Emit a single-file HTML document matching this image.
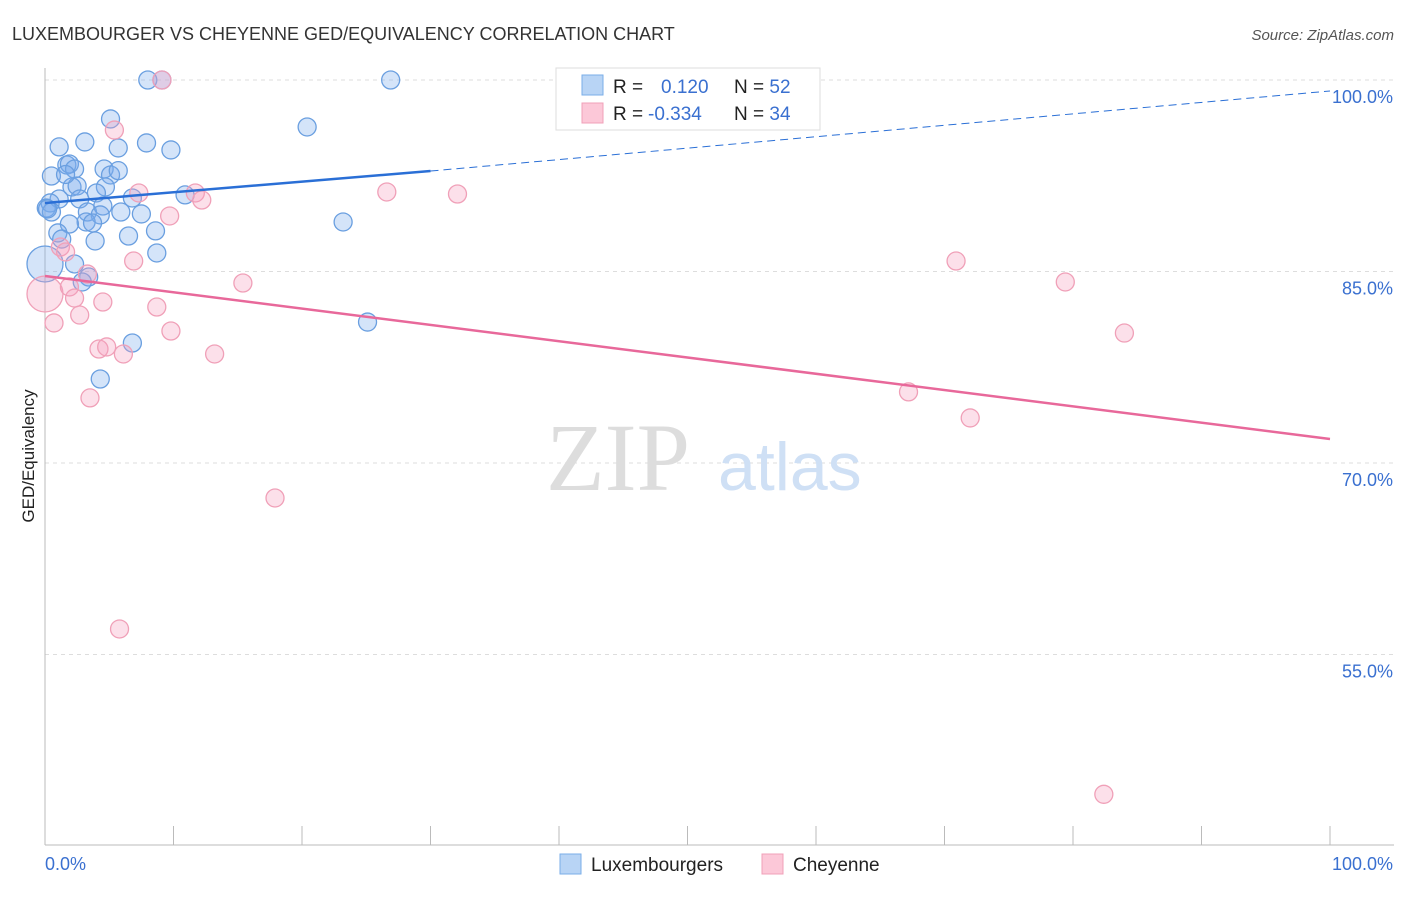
<!DOCTYPE html>
<html><head><meta charset="utf-8"><style>
body{margin:0;background:#fff;font-family:"Liberation Sans",sans-serif}
svg text{font-family:"Liberation Sans",sans-serif}
</style></head><body>
<svg width="1406" height="892" viewBox="0 0 1406 892">
<text x="12" y="40" font-size="18" fill="#333">LUXEMBOURGER VS CHEYENNE GED/EQUIVALENCY CORRELATION CHART</text>
<text x="1394" y="40" font-size="15" fill="#555" font-style="italic" text-anchor="end">Source: ZipAtlas.com</text>
<g id="grid"></g>
<g id="axes"></g>
<text x="690" y="490" font-size="96" fill="#ddd" text-anchor="end" font-family="Liberation Serif" style="font-family:'Liberation Serif',serif">ZIP</text>
<text x="718" y="490" font-size="68" fill="#cfe0f5">atlas</text>
<g id="pts"></g>
<g id="lines"></g>
<text transform="translate(34,456) rotate(-90)" font-size="17" fill="#222" text-anchor="middle">GED/Equivalency</text>
<g>
<rect x="556" y="68" width="264" height="62" fill="#fff" stroke="#ddd"/>
<rect x="582" y="75" width="21" height="20" fill="#b8d4f5" stroke="#7aaee8"/>
<rect x="582" y="103" width="21" height="20" fill="#fcc8d8" stroke="#f0a0b8"/>
<text x="613" y="93" font-size="19" fill="#222">R = <tspan x="661" fill="#3a70d0">0.120</tspan><tspan x="734" fill="#222">N = </tspan><tspan fill="#3a70d0">52</tspan></text>
<text x="613" y="120" font-size="19" fill="#222">R = <tspan x="648" fill="#3a70d0">-0.334</tspan><tspan x="734" fill="#222">N = </tspan><tspan fill="#3a70d0">34</tspan></text>
</g>
<g>
<rect x="560" y="854" width="21" height="20" fill="#b8d4f5" stroke="#7aaee8"/>
<text x="591" y="871" font-size="19" fill="#222">Luxembourgers</text>
<rect x="762" y="854" width="21" height="20" fill="#fcc8d8" stroke="#f0a0b8"/>
<text x="793" y="871" font-size="19" fill="#222">Cheyenne</text>
</g>
</svg>
<script>
const yTicks=[100,85,70,55];
const yTickLabels=["100.0%","85.0%","70.0%","55.0%"];
const xTickLabels=["0.0%","100.0%"];
const blueX=[8.0,9.1,26.9,5.1,20.4,1.1,3.1,5.7,7.9,9.8,1.7,1.9,2.3,4.6,5.1,0.5,2.1,2.5,4.7,4.0,1.1,6.8,10.9,0.4,2.7,0.1,0.5,3.3,4.5,4.3,5.9,7.5,3.2,3.7,1.9,23.2,1.0,6.5,8.6,3.9,1.3,8.7,0.0,2.3,3.4,2.9,25.1,6.8,4.3,0.2,1.6,5.7];
const blueY=[100,100,100,96.95,96.32,94.76,95.15,94.68,95.07,94.52,93.34,93.42,93.03,93.03,92.56,92.48,91.62,91.70,91.62,91.15,90.68,90.76,91.00,90.37,90.68,89.97,89.66,89.66,90.13,89.43,89.66,89.51,88.88,88.80,88.72,88.88,88.02,87.78,88.18,87.39,87.54,86.45,85.59,85.59,84.57,84.18,81.04,79.40,76.58,89.90,92.60,92.90];
const pinkX=[9.1,5.4,7.3,11.7,12.2,26.6,32.1,9.7,1.2,1.6,6.9,15.4,70.9,79.4,0.0,1.9,2.3,4.5,8.7,2.7,0.7,9.8,84.0,4.2,4.8,6.1,13.2,3.5,67.2,72.0,17.9,5.8,82.4,3.3];
const pinkY=[100,96.08,91.15,91.15,90.60,91.23,91.07,89.35,86.92,86.53,85.82,84.10,85.82,84.18,83.24,83.79,82.92,82.61,82.22,81.59,80.97,80.34,80.18,78.93,79.09,78.54,78.54,75.10,75.57,73.53,67.26,57.00,44.05,84.80];
const blueLineX=[0,30,100];
const blueLineY=[90.37,92.87,99.14];
const pinkLineX=[0,100];
const pinkLineY=[84.65,71.88];
const X0=45,X1=1330;
const sx=v=>X0+(X1-X0)*v/100;
const sy=v=>80+(100-v)/15*191.5;
const NS="http://www.w3.org/2000/svg";
function mk(t,a,p){const e=document.createElementNS(NS,t);for(const k in a)e.setAttribute(k,a[k]);p.appendChild(e);return e;}
const grid=document.getElementById('grid'),axes=document.getElementById('axes'),pts=document.getElementById('pts'),lines=document.getElementById('lines');
yTicks.forEach((t,i)=>{
 const l=mk('line',{x1:X0,x2:1394,y1:sy(t),y2:sy(t),stroke:'#ddd','stroke-dasharray':'4,4'},grid);
 
 
 const tx=mk('text',{x:1393,y:sy(t)+23,'font-size':18,fill:'#3a70d0','text-anchor':'end'},grid);
 tx.textContent=yTickLabels[i];
 
 
});
const ax=mk('line',{x1:X0,x2:X0,y1:68,y2:845,stroke:'#bbb'},axes);


const bx=mk('line',{x1:X0,x2:1394,y1:845,y2:845,stroke:'#bbb'},axes);


for(let i=0;i<=10;i++){
 const t=mk('line',{x1:sx(i*10),x2:sx(i*10),y1:826,y2:845,stroke:'#bbb'},axes);
 
 
}
[[0,'start',45],[100,'end',1393]].forEach((d,i)=>{
 const t=mk('text',{x:d[2],y:870,'font-size':18,fill:'#3a70d0','text-anchor':d[1]},axes);
 t.textContent=xTickLabels[i];
 
 
});
function dots(X,Y,fill,stroke,name){
 X.forEach((x,i)=>{
  const big=(x===0&&(i===42||name==='pink-point'&&i===14));
  const c=mk('circle',{cx:sx(x),cy:sy(Y[i]),r:big?18:9,fill:fill,stroke:stroke,'stroke-width':1.3},pts);
  
  
 });
}
dots(blueX,blueY,'rgba(120,170,235,0.32)','#6a9fe0','blue-point');
dots(pinkX,pinkY,'rgba(245,160,190,0.32)','#f0a0b8','pink-point');
const b1=mk('line',{x1:sx(blueLineX[0]),y1:sy(blueLineY[0]),x2:sx(blueLineX[1]),y2:sy(blueLineY[1]),stroke:'#2a6fd6','stroke-width':2.5},lines);


const b2=mk('line',{x1:sx(blueLineX[1]),y1:sy(blueLineY[1]),x2:sx(blueLineX[2]),y2:sy(blueLineY[2]),stroke:'#2a6fd6','stroke-width':1,'stroke-dasharray':'8,5'},lines);


const p1=mk('line',{x1:sx(pinkLineX[0]),y1:sy(pinkLineY[0]),x2:sx(pinkLineX[1]),y2:sy(pinkLineY[1]),stroke:'#e8689a','stroke-width':2.5},lines);


</script>
</body></html>
